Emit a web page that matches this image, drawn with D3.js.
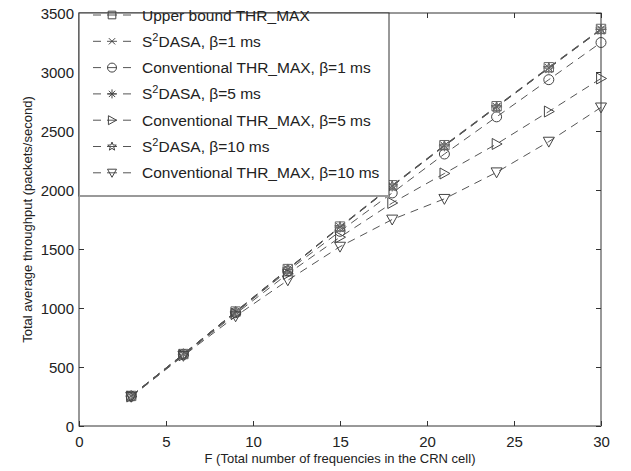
<!DOCTYPE html>
<html>
<head>
<meta charset="utf-8">
<script src="https://cdn.jsdelivr.net/npm/d3@7"></script>
<style>
  body { margin: 0; background: #fff; }
  svg { display: block; font-family: "Liberation Sans", Arial, sans-serif; }
</style>
</head>
<body>
<div id="chart"></div>
<script>
const fValues = [3, 6, 9, 12, 15, 18, 21, 24, 27, 30];
const upperBound = [255, 610, 970, 1330, 1690, 2040, 2380, 2710, 3040, 3365];
const s2dasa1 = [255, 610, 968, 1328, 1688, 2036, 2376, 2706, 3036, 3362];
const conv1 = [252, 605, 960, 1315, 1650, 1975, 2305, 2620, 2935, 3250];
const s2dasa5 = [254, 609, 967, 1327, 1686, 2034, 2374, 2704, 3034, 3360];
const conv5 = [250, 600, 950, 1290, 1600, 1890, 2140, 2390, 2665, 2945];
const s2dasa10 = [253, 608, 966, 1325, 1684, 2032, 2372, 2702, 3032, 3358];
const conv10 = [248, 595, 930, 1235, 1520, 1750, 1925, 2150, 2410, 2700];
const xTicks = [0, 5, 10, 15, 20, 25, 30];
const yTicks = [0, 500, 1000, 1500, 2000, 2500, 3000, 3500];

const series = [
  { name: 'Upper bound THR_MAX', values: upperBound, marker: 'square' },
  { name: ['S', '2', 'DASA, β=1 ms'], values: s2dasa1, marker: 'x' },
  { name: 'Conventional THR_MAX, β=1 ms', values: conv1, marker: 'circle' },
  { name: ['S', '2', 'DASA, β=5 ms'], values: s2dasa5, marker: 'asterisk' },
  { name: 'Conventional THR_MAX, β=5 ms', values: conv5, marker: 'triRight' },
  { name: ['S', '2', 'DASA, β=10 ms'], values: s2dasa10, marker: 'star' },
  { name: 'Conventional THR_MAX, β=10 ms', values: conv10, marker: 'triDown' }
];

const W = 631, H = 471;
const margin = { top: 13, right: 30, bottom: 45, left: 79 };
const width = W - margin.left - margin.right;
const height = H - margin.top - margin.bottom;
const ink = '#333';
const lineColor = '#555';
const font = '"Liberation Sans", Arial, sans-serif';

const svg = d3.select('#chart').append('svg').attr('width', W).attr('height', H);
const g = svg.append('g').attr('transform', `translate(${margin.left},${margin.top})`);

const x = d3.scaleLinear().domain([0, 30]).range([0, width]);
const y = d3.scaleLinear().domain([0, 3500]).range([height, 0]);

// marker path generator, centred on 0,0
function markerPath(type, s) {
  const r = s / 2;
  const p = d3.path();
  if (type === 'square') {
    p.rect(-r * 0.85, -r * 0.85, r * 1.7, r * 1.7);
  } else if (type === 'circle') {
    p.arc(0, 0, r, 0, 2 * Math.PI);
  } else if (type === 'x') {
    p.moveTo(-r * 0.7, -r * 0.7); p.lineTo(r * 0.7, r * 0.7);
    p.moveTo(-r * 0.7, r * 0.7); p.lineTo(r * 0.7, -r * 0.7);
  } else if (type === 'asterisk') {
    p.moveTo(-r, 0); p.lineTo(r, 0);
    p.moveTo(0, -r); p.lineTo(0, r);
    p.moveTo(-r * 0.7, -r * 0.7); p.lineTo(r * 0.7, r * 0.7);
    p.moveTo(-r * 0.7, r * 0.7); p.lineTo(r * 0.7, -r * 0.7);
  } else if (type === 'triRight') {
    p.moveTo(-r * 0.8, -r); p.lineTo(r, 0); p.lineTo(-r * 0.8, r); p.closePath();
  } else if (type === 'triDown') {
    p.moveTo(-r, -r * 0.8); p.lineTo(r, -r * 0.8); p.lineTo(0, r); p.closePath();
  } else if (type === 'star') {
    for (let i = 0; i < 10; i++) {
      const a = -Math.PI / 2 + i * Math.PI / 5;
      const rr = i % 2 === 0 ? r : r * 0.42;
      if (i === 0) p.moveTo(rr * Math.cos(a), rr * Math.sin(a));
      else p.lineTo(rr * Math.cos(a), rr * Math.sin(a));
    }
    p.closePath();
  }
  return p.toString();
}

// axes frame
g.append('rect').attr('width', width).attr('height', height)
  .attr('fill', 'none').attr('stroke', ink).attr('stroke-width', 1);
g.append('line').attr('x1', width).attr('x2', width).attr('y1', 0).attr('y2', height)
  .attr('stroke', '#999').attr('stroke-width', 2);

const tickLen = 5;
const xAxis = g.append('g').attr('transform', `translate(0,${height})`)
  .call(d3.axisBottom(x).tickValues(xTicks).tickSize(-tickLen).tickPadding(10));
const xAxisTop = g.append('g')
  .call(d3.axisTop(x).tickValues(xTicks).tickSize(-tickLen).tickFormat(''));
const yAxis = g.append('g')
  .call(d3.axisLeft(y).tickValues(yTicks).tickSize(-tickLen).tickPadding(5).tickFormat(d3.format('d')));
const yAxisRight = g.append('g').attr('transform', `translate(${width},0)`)
  .call(d3.axisRight(y).tickValues(yTicks).tickSize(-tickLen).tickFormat(''));

[xAxis, xAxisTop, yAxis, yAxisRight].forEach(a => {
  a.select('.domain').remove();
  a.selectAll('line').attr('stroke', ink);
  a.selectAll('text').attr('fill', '#222').style('font-size', '15px').style('font-family', font);
});
yAxis.selectAll('text').attr('dy', '0.36em');

// axis labels
svg.append('text').attr('x', margin.left + width / 2).attr('y', 463)
  .attr('text-anchor', 'middle').attr('fill', '#222').style('font-size', '13px')
  .text('F (Total number of frequencies in the CRN cell)');
svg.append('text').attr('transform', `translate(32,${margin.top + height / 2}) rotate(-90)`)
  .attr('text-anchor', 'middle').attr('fill', '#222').style('font-size', '13px')
  .text('Total average throughput (packets/second)');

// series lines
const line = d3.line().x((d, i) => x(fValues[i])).y(d => y(d));
series.forEach(s => {
  g.append('path').datum(s.values).attr('d', line)
    .attr('fill', 'none').attr('stroke', lineColor).attr('stroke-width', 1)
    .attr('stroke-dasharray', '8,6');
});
series.forEach(s => {
  const grey = ['square', 'x', 'asterisk', 'star'].includes(s.marker);
  g.selectAll(null).data(s.values).enter().append('path')
    .attr('transform', (d, i) => `translate(${x(fValues[i])},${y(d)})`)
    .attr('d', markerPath(s.marker, s.marker === 'circle' ? 10 : 11))
    .attr('fill', 'none').attr('stroke', grey ? '#666' : '#444')
    .attr('stroke-width', 1);
});

// legend
const legend = svg.append('g');
const lgX0 = margin.left, lgY0 = margin.top, lgW = 310, lgH = 183;
legend.append('rect').attr('x', lgX0).attr('y', lgY0).attr('width', lgW).attr('height', lgH)
  .attr('fill', '#fff').attr('stroke', ink).attr('stroke-width', 1);
legend.append('line').attr('x1', lgX0).attr('x2', lgX0 + lgW).attr('y1', lgY0 + lgH).attr('y2', lgY0 + lgH)
  .attr('stroke', '#999').attr('stroke-width', 2);

series.forEach((s, i) => {
  const cy = 15 + i * 26.3;
  const row = legend.append('g').attr('transform', `translate(0,${cy})`);
  [[93, 101], [107, 117], [123, 131]].forEach(([a, b]) => {
    row.append('line').attr('x1', a).attr('x2', b).attr('y1', 0).attr('y2', 0)
      .attr('stroke', lineColor).attr('stroke-width', 1);
  });
  row.append('path').attr('transform', 'translate(112,0)')
    .attr('d', markerPath(s.marker, 9))
    .attr('fill', 'none').attr('stroke', '#444').attr('stroke-width', 1);
  const t = row.append('text').attr('x', 142).attr('y', 5.5).attr('fill', '#222').style('font-size', '15.5px');
  if (Array.isArray(s.name)) {
    t.append('tspan').text(s.name[0]);
    t.append('tspan').attr('dy', -6).style('font-size', '11px').text(s.name[1]);
    t.append('tspan').attr('dy', 6).text(s.name[2]);
  } else {
    t.text(s.name);
  }
});
</script>
</body>
</html>
